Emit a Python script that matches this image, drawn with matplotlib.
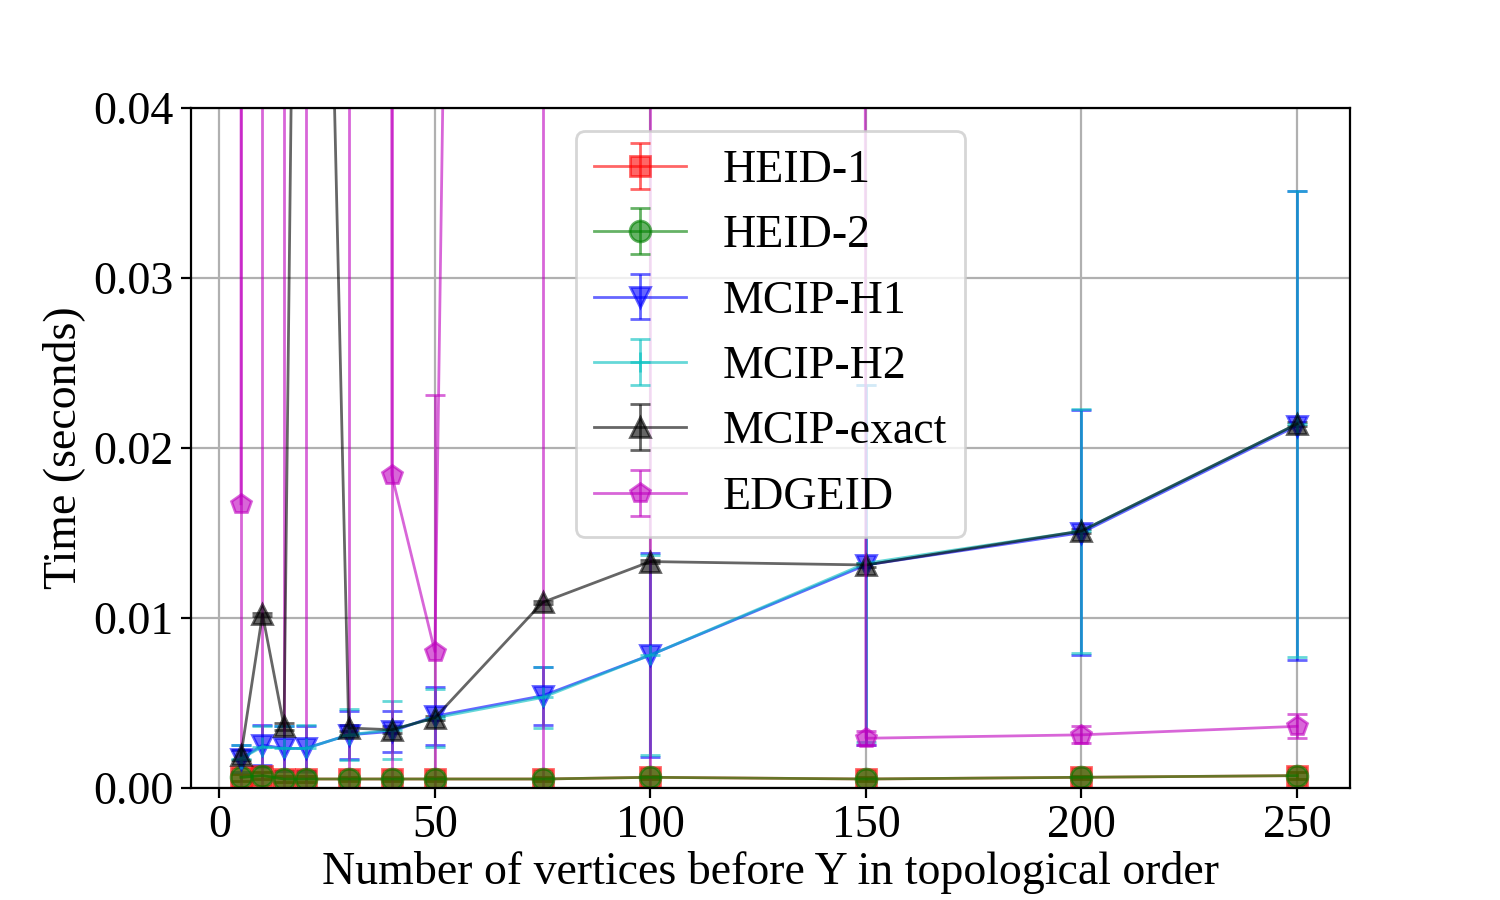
import numpy as np
from matplotlib import pyplot as plt

plt.rcParams['font.family'] = ['Liberation Serif', 'DejaVu Serif']
plt.rcParams['font.size'] = 16.5

# number of vertices before Y
n = [5, 10, 15, 20, 30, 40, 50, 75, 100, 150, 200, 250]

heid1 = [0.0006, 0.0007, 0.0005, 0.0005, 0.0005, 0.0005, 0.0005, 0.0005, 0.0006, 0.0005, 0.0006, 0.0007]
heid1_std = [0.0002, 0.0002, 0.0002, 0.0002, 0.0001, 0.0001, 0.0001, 0.0001, 0.0001, 0.0001, 0.0001, 0.0002]

heid2 = [0.0006, 0.0007, 0.0005, 0.0005, 0.0005, 0.0005, 0.0005, 0.0005, 0.0006, 0.0005, 0.0006, 0.0007]
heid2_std = [0.0002, 0.0002, 0.0002, 0.0002, 0.0001, 0.0001, 0.0001, 0.0001, 0.0001, 0.0001, 0.0001, 0.0002]

h1 = [0.0017, 0.0025, 0.0023, 0.0023, 0.0031, 0.0033, 0.0042, 0.0054, 0.0078, 0.0131, 0.0150, 0.0213]
h1_std = [0.0008, 0.0012, 0.0013, 0.0013, 0.0014, 0.0012, 0.0017, 0.0017, 0.0060, 0.0106, 0.0072, 0.0138]

h2 = [0.0017, 0.0024, 0.0023, 0.0023, 0.0031, 0.0034, 0.0041, 0.0053, 0.0078, 0.0132, 0.0151, 0.0214]
h2_std = [0.0008, 0.0012, 0.0013, 0.0014, 0.0015, 0.0017, 0.0017, 0.0018, 0.0059, 0.0105, 0.0072, 0.0137]

exact = [0.0019, 0.0102, 0.0036, 0.115, 0.0035, 0.0034, 0.0041, 0.0109, 0.0133, 0.0131, 0.0151, 0.0214]
exact_std = [0.0003, 0.0001, 0.0002, 0.02, 0.0002, 0.0002, 0.0001, 0.0001, 0.0001, 0.0001, 0.0001, 0.0001]

edgeid = [0.0167, 5.0, 6.0, 8.0, 9.0, 0.0184, 0.0080, 0.45, 12.0, 0.0029, 0.0031, 0.0036]
edgeid_std = [0.03, 7.0, 8.0, 10.0, 12.0, 0.03, 0.0151, 0.6, 15.0, 0.0004, 0.0005, 0.0007]

series = [
    ("HEID-1", heid1, heid1_std, 'r', 's'),
    ("HEID-2", heid2, heid2_std, 'g', 'o'),
    ("MCIP-H1", h1, h1_std, 'b', 'v'),
    ("MCIP-H2", h2, h2_std, 'c', '+'),
    ("MCIP-exact", exact, exact_std, 'k', '^'),
    ("EDGEID", edgeid, edgeid_std, 'm', 'p'),
]

fig, ax = plt.subplots(figsize=(7.5, 4.5))
fig.subplots_adjust(left=0.127, right=0.9, top=0.88, bottom=0.125)

for label, y, err, col, mk in series:
    ax.errorbar(n, y, yerr=err, color=col, marker=mk, markersize=7.5,
                linewidth=1, capsize=3.5, alpha=0.6, label=label)

ax.set_xlim(-6.7, 262.3)
ax.set_ylim(0, 0.04)
ax.set_xticks([0, 50, 100, 150, 200, 250])
ax.set_yticks([0.0, 0.01, 0.02, 0.03, 0.04])
ax.set_yticklabels(["0.00", "0.01", "0.02", "0.03", "0.04"])
ax.tick_params(axis='x', pad=2.5)
ax.tick_params(axis='y', pad=2.5)
ax.grid(True)
ax.legend(loc='upper center')
ax.set_xlabel("Number of vertices before Y in topological order", labelpad=1.5)
ax.set_ylabel("Time (seconds)", labelpad=3)

fig.savefig("out.png", dpi=200)
